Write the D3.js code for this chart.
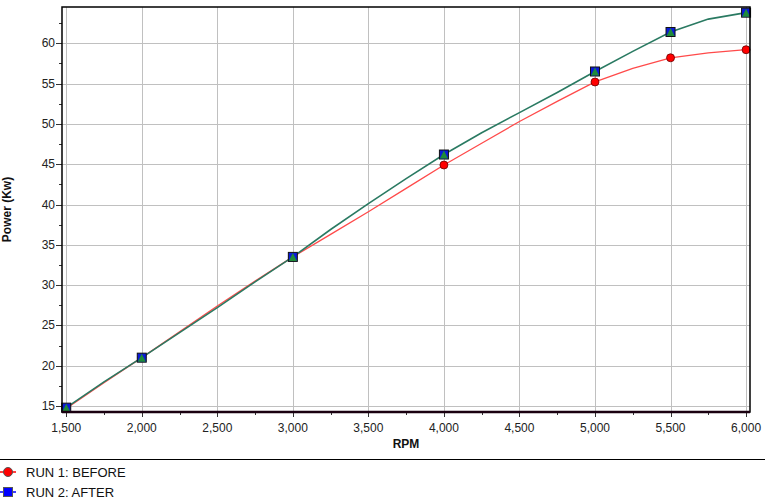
<!DOCTYPE html>
<html lang="en">
<head>
  <meta charset="UTF-8">
  <title>Power vs RPM</title>
  <style>
    body {
      margin: 0;
      padding: 0;
      background: #fff;
      font-family: "Liberation Sans", Arial, sans-serif;
    }
    .grid line {
      stroke: #c0c0c0;
      stroke-width: 1;
    }
    .tick-label {
      font-size: 12px;
      fill: #222;
    }
    .axis-title {
      font-size: 12px;
      font-weight: bold;
      fill: #111;
    }
    .legend text {
      font-size: 13px;
      fill: #111;
    }
  </style>
</head>
<body>
  <div id="chart"></div>
  <script src="https://d3js.org/d3.v7.min.js"></script>
  <script>
    // sampled curve points (rpm)
    const rpm = [1500, 1750, 2000, 2250, 2500, 2750, 3000, 3250, 3500, 3750, 4000,
                 4250, 4500, 4750, 5000, 5250, 5500, 5750, 6000];
    const run1Before = [14.7, 17.9, 21.0, 24.2, 27.4, 30.5, 33.5, 36.3, 39.1, 42.0, 44.9,
                        47.6, 50.3, 52.8, 55.2, 56.9, 58.2, 58.8, 59.2];
    const run2After = [14.8, 18.0, 21.0, 24.1, 27.2, 30.4, 33.5, 36.9, 40.1, 43.2, 46.2,
                       48.9, 51.4, 53.9, 56.5, 59.0, 61.4, 63.0, 63.8];
    // rpm values where a marker is drawn
    const markerRpm = [1500, 2000, 3000, 4000, 5000, 5500, 6000];

    const xTicks = [1500, 2000, 2500, 3000, 3500, 4000, 4500, 5000, 5500, 6000];
    const xMinor = [1750, 2250, 2750, 3250, 3750, 4250, 4750, 5250, 5750];
    const yTicks = [15, 20, 25, 30, 35, 40, 45, 50, 55, 60];
    const yMinor = [17.5, 22.5, 27.5, 32.5, 37.5, 42.5, 47.5, 52.5, 57.5, 62.5];
    const legendNames = ["RUN 1: BEFORE", "RUN 2: AFTER"];

    const width = 765;
    const height = 502;
    const plot = { left: 62, right: 750, top: 7, bottom: 412 };

    const svg = d3.select("#chart")
      .append("svg")
      .attr("width", width)
      .attr("height", height);

    const x = d3.scaleLinear().domain([1472, 6026]).range([plot.left, plot.right]);
    const y = d3.scaleLinear().domain([14.26, 64.5]).range([plot.bottom, plot.top]);

    // grid
    const grid = svg.append("g").attr("class", "grid");
    grid.selectAll(".vx").data(xTicks).enter().append("line")
      .attr("x1", d => Math.round(x(d)) + 0.5).attr("x2", d => Math.round(x(d)) + 0.5)
      .attr("y1", plot.top).attr("y2", plot.bottom);
    grid.selectAll(".hy").data(yTicks).enter().append("line")
      .attr("x1", plot.left).attr("x2", plot.right)
      .attr("y1", d => Math.round(y(d)) + 0.5).attr("y2", d => Math.round(y(d)) + 0.5);

    // tick marks
    const ticks = svg.append("g").attr("stroke", "#333").attr("stroke-width", 1);
    ticks.selectAll(".yt").data(yTicks).enter().append("line")
      .attr("x1", plot.left - 6).attr("x2", plot.left)
      .attr("y1", d => Math.round(y(d)) + 0.5).attr("y2", d => Math.round(y(d)) + 0.5);
    ticks.selectAll(".ym").data(yMinor).enter().append("line")
      .attr("x1", plot.left - 3).attr("x2", plot.left)
      .attr("y1", d => Math.round(y(d)) + 0.5).attr("y2", d => Math.round(y(d)) + 0.5);
    ticks.selectAll(".xt").data(xTicks).enter().append("line")
      .attr("x1", d => Math.round(x(d)) + 0.5).attr("x2", d => Math.round(x(d)) + 0.5)
      .attr("y1", plot.bottom).attr("y2", plot.bottom + 5);
    ticks.selectAll(".xm").data(xMinor).enter().append("line")
      .attr("x1", d => Math.round(x(d)) + 0.5).attr("x2", d => Math.round(x(d)) + 0.5)
      .attr("y1", plot.bottom).attr("y2", plot.bottom + 3);

    // tick labels
    const fmt = d3.format(",");
    svg.selectAll(".ylab").data(yTicks).enter().append("text")
      .attr("class", "tick-label")
      .attr("x", plot.left - 7)
      .attr("y", d => y(d) + 4)
      .attr("text-anchor", "end")
      .text(d => d);
    svg.selectAll(".xlab").data(xTicks).enter().append("text")
      .attr("class", "tick-label")
      .attr("x", d => x(d))
      .attr("y", plot.bottom + 20)
      .attr("text-anchor", "middle")
      .text(d => fmt(d));

    // axis titles
    svg.append("text")
      .attr("class", "axis-title")
      .attr("transform", `translate(11, ${(plot.top + plot.bottom) / 2}) rotate(-90)`)
      .attr("text-anchor", "middle")
      .text("Power (Kw)");
    svg.append("text")
      .attr("class", "axis-title")
      .attr("x", (plot.left + plot.right) / 2)
      .attr("y", 448)
      .attr("text-anchor", "middle")
      .text("RPM");

    // lines
    const line = d3.line().x(d => x(d[0])).y(d => y(d[1]));
    const before = rpm.map((r, i) => [r, run1Before[i]]);
    const after = rpm.map((r, i) => [r, run2After[i]]);

    svg.append("path").datum(before)
      .attr("fill", "none").attr("stroke", "#ff4a4a").attr("stroke-width", 1.3)
      .attr("d", line);
    svg.append("path").datum(after)
      .attr("fill", "none").attr("stroke", "#2a7a62").attr("stroke-width", 1.6)
      .attr("d", line);

    // markers
    const mBefore = before.filter(d => markerRpm.includes(d[0]));
    const mAfter = after.filter(d => markerRpm.includes(d[0]));

    svg.selectAll(".m1").data(mBefore).enter().append("circle")
      .attr("cx", d => x(d[0])).attr("cy", d => y(d[1]))
      .attr("r", 4).attr("fill", "#ff0000").attr("stroke", "#600").attr("stroke-width", 0.8);

    const sq = svg.selectAll(".m2").data(mAfter).enter().append("g")
      .attr("transform", d => `translate(${x(d[0])}, ${y(d[1])})`);
    sq.append("rect")
      .attr("x", -4.5).attr("y", -4.5).attr("width", 9).attr("height", 9)
      .attr("fill", "#0a1ad8").attr("stroke", "#111").attr("stroke-width", 1);
    sq.append("path")
      .attr("d", "M0,-4 L4,4 L-4,4 Z")
      .attr("fill", "#1f8a3a");

    // frame
    svg.append("rect")
      .attr("x", plot.left).attr("y", plot.top)
      .attr("width", plot.right - plot.left).attr("height", plot.bottom - plot.top)
      .attr("fill", "none").attr("stroke", "#000").attr("stroke-width", 1.5);
    svg.append("line")
      .attr("x1", plot.left).attr("x2", plot.right)
      .attr("y1", plot.bottom).attr("y2", plot.bottom)
      .attr("stroke", "#1a0010").attr("stroke-width", 2.5);

    // legend
    const legend = svg.append("g").attr("class", "legend");
    legend.append("line")
      .attr("x1", 0).attr("x2", width).attr("y1", 459.5).attr("y2", 459.5)
      .attr("stroke", "#000").attr("stroke-width", 1);

    const items = legend.selectAll(".item").data(legendNames).enter().append("g")
      .attr("transform", (d, i) => `translate(0, ${472 + i * 20})`);
    items.append("line")
      .attr("x1", 0).attr("x2", 16).attr("y1", 0).attr("y2", 0)
      .attr("stroke", (d, i) => i === 0 ? "#ff0000" : "#0000ff").attr("stroke-width", 1.5);
    items.filter((d, i) => i === 0).append("circle")
      .attr("cx", 8).attr("cy", 0).attr("r", 4.5)
      .attr("fill", "#ff0000").attr("stroke", "#555").attr("stroke-width", 1);
    items.filter((d, i) => i === 1).append("rect")
      .attr("x", 3.5).attr("y", -4.5).attr("width", 9).attr("height", 9)
      .attr("fill", "#0000ff").attr("stroke", "#555").attr("stroke-width", 1);
    items.append("text")
      .attr("x", 26).attr("y", 5)
      .text(d => d);
  </script>
</body>
</html>
